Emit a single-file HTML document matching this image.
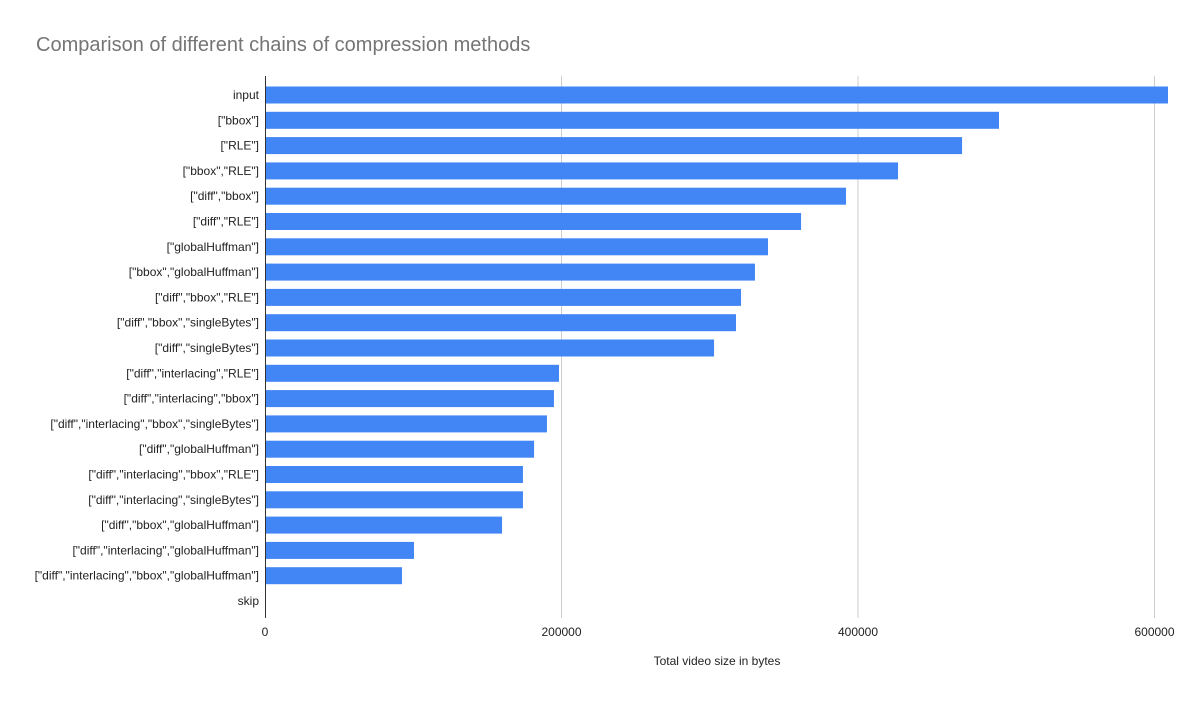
<!DOCTYPE html>
<html><head><meta charset="utf-8"><style>
html,body{margin:0;padding:0;background:#fff}
svg{display:block;font-family:"Liberation Sans",Arial,sans-serif}
</style></head><body>
<svg id="chart" width="1204" height="702" viewBox="0 0 1204 702">
<rect width="1204" height="702" fill="#fff"/>
<text x="36" y="51" font-size="20" fill="#757575">Comparison of different chains of compression methods</text>
<g id="grid"></g><g id="bars"></g><g id="ylabels"></g><g id="xticks"></g>
<line x1="265.5" y1="76" x2="265.5" y2="618" stroke="#333" stroke-width="1"/>
<text x="717" y="665" font-size="12" fill="#222" text-anchor="middle">Total video size in bytes</text>
</svg>
<script>
const categories=['input','["bbox"]','["RLE"]','["bbox","RLE"]','["diff","bbox"]','["diff","RLE"]','["globalHuffman"]','["bbox","globalHuffman"]','["diff","bbox","RLE"]','["diff","bbox","singleBytes"]','["diff","singleBytes"]','["diff","interlacing","RLE"]','["diff","interlacing","bbox"]','["diff","interlacing","bbox","singleBytes"]','["diff","globalHuffman"]','["diff","interlacing","bbox","RLE"]','["diff","interlacing","singleBytes"]','["diff","bbox","globalHuffman"]','["diff","interlacing","globalHuffman"]','["diff","interlacing","bbox","globalHuffman"]','skip'];
const values=[609100,495100,470200,427000,391900,361600,339300,330500,321100,317700,302900,198300,194900,190200,181500,174000,174000,159900,100500,92400,0];
const xTicks=[0,200000,400000,600000];
const NS='http://www.w3.org/2000/svg';
const x0=265,pxPer=296.5/200000;
function xs(v){return x0+v*pxPer;}
function ys(i){return 95+i*25.3;}
function mk(t,a,p){const e=document.createElementNS(NS,t);for(const k in a)e.setAttribute(k,a[k]);p.appendChild(e);return e;}
const grid=document.getElementById('grid'),bars=document.getElementById('bars'),yl=document.getElementById('ylabels'),xt=document.getElementById('xticks');
xTicks.forEach(v=>{
 if(v>0){const g=mk('line',{x1:xs(v),x2:xs(v),y1:76,y2:618,stroke:'#ccc','stroke-width':1},grid);
 
 }
 const t=mk('text',{x:xs(v),y:636,'font-size':12,fill:'#222','text-anchor':'middle'},xt);
 t.textContent=v;
 
 
});
categories.forEach((c,i)=>{
 const t=mk('text',{x:259,y:ys(i)+4,'font-size':12,fill:'#222','text-anchor':'end'},yl);
 t.textContent=c;
 
 
 if(values[i]>0){const r=mk('rect',{x:x0,y:ys(i)-8.5,width:xs(values[i])-x0,height:17,fill:'#4285f4'},bars);
 
 }
});
</script>
</body></html>
